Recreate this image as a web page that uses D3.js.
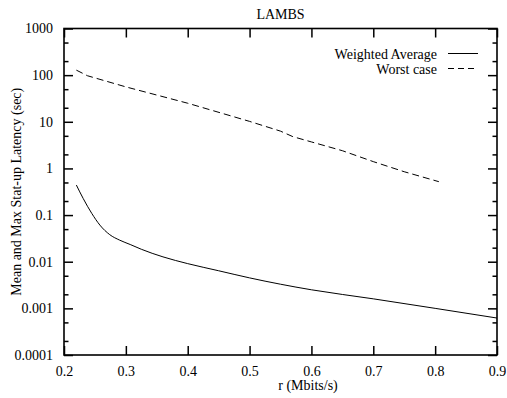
<!DOCTYPE html>
<html>
<head>
<meta charset="utf-8">
<script src="https://cdn.jsdelivr.net/npm/d3@7"></script>
<style>
  body { margin: 0; background: #fff; }
  svg text { font-family: "Liberation Serif", "Times New Roman", Times, "DejaVu Serif", serif; }
</style>
</head>
<body>
<svg width="507" height="398"></svg>
<script>
// data
const rAvg = [0.22, 0.231, 0.245, 0.258, 0.274, 0.29, 0.307, 0.325, 0.36, 0.4, 0.45, 0.5, 0.6, 0.7, 0.8, 0.9];
const avgLatency = [0.44, 0.227, 0.108, 0.061, 0.038, 0.029, 0.0234, 0.0185, 0.0127, 0.0091, 0.0064, 0.0045, 0.0025, 0.0016, 0.001, 0.00062];

const rWorst = [0.22, 0.238, 0.3, 0.4, 0.5, 0.55, 0.57, 0.6, 0.65, 0.7, 0.75, 0.806];
const worstLatency = [128, 97, 56, 25, 10.2, 6.3, 4.8, 3.7, 2.4, 1.4, 0.85, 0.52];

const xTicks = [0.2, 0.3, 0.4, 0.5, 0.6, 0.7, 0.8, 0.9];
const yTicks = [1e-4, 1e-3, 1e-2, 0.1, 1, 10, 100, 1000];
const yTickLabels = ["0.0001", "0.001", "0.01", "0.1", "1", "10", "100", "1000"];
const yMinor = [2e-4, 5e-4, 2e-3, 5e-3, 2e-2, 5e-2, 0.2, 0.5, 2, 5, 20, 50, 200, 500];

const seriesNames = ["Weighted Average", "Worst case"];

const svg = d3.select("svg");
const x0 = 64, x1 = 497, y0 = 28.5, y1 = 355;

const x = d3.scaleLinear().domain([0.2, 0.9]).range([x0, x1]);
const y = d3.scaleLog().domain([1e-4, 1000]).range([y1, y0]);

const fontSize = 14;

// axes, ticks pointing inward
const yLabel = d => yTickLabels[yTicks.indexOf(d)];

svg.append("g")
    .attr("transform", `translate(${x0},0)`)
    .call(d3.axisLeft(y).tickValues(yTicks).tickFormat(yLabel).tickSize(-9).tickPadding(11))
    .call(g => g.select(".domain").remove());

svg.append("g")
    .attr("transform", `translate(${x0},0)`)
    .call(d3.axisLeft(y).tickValues(yMinor).tickFormat("").tickSize(-4.5))
    .call(g => g.select(".domain").remove());

svg.append("g")
    .attr("transform", `translate(${x1},0)`)
    .call(d3.axisRight(y).tickValues(yTicks).tickFormat("").tickSize(-9))
    .call(g => g.select(".domain").remove());

svg.append("g")
    .attr("transform", `translate(${x1},0)`)
    .call(d3.axisRight(y).tickValues(yMinor).tickFormat("").tickSize(-4.5))
    .call(g => g.select(".domain").remove());

svg.append("g")
    .attr("transform", `translate(0,${y1})`)
    .call(d3.axisBottom(x).tickValues(xTicks).tickFormat(d3.format(".1f")).tickSize(-9).tickPadding(11))
    .call(g => g.select(".domain").remove());

svg.append("g")
    .attr("transform", `translate(0,${y0})`)
    .call(d3.axisTop(x).tickValues(xTicks).tickFormat("").tickSize(-9))
    .call(g => g.select(".domain").remove());

svg.selectAll("g").attr("font-family", null).attr("font-size", null);
svg.selectAll(".tick line").attr("stroke", "#000").attr("stroke-width", 1.5);
svg.selectAll(".tick text")
    .attr("fill", "#000")
    .style("font-size", fontSize + "px");

// frame
svg.append("rect")
    .attr("x", x0).attr("y", y0)
    .attr("width", x1 - x0).attr("height", y1 - y0)
    .attr("fill", "none").attr("stroke", "#000").attr("stroke-width", 1.6);

// lines
const smooth = d3.line()
    .x(d => x(d[0]))
    .y(d => y(d[1]))
    .curve(d3.curveMonotoneX);

const straight = d3.line()
    .x(d => x(d[0]))
    .y(d => y(d[1]));

svg.append("path")
    .datum(d3.zip(rAvg, avgLatency))
    .attr("fill", "none").attr("stroke", "#000").attr("stroke-width", 1)
    .attr("d", smooth);

svg.append("path")
    .datum(d3.zip(rWorst, worstLatency))
    .attr("fill", "none").attr("stroke", "#000").attr("stroke-width", 1)
    .attr("stroke-dasharray", "7,4")
    .attr("d", straight);

// legend
const legend = svg.append("g");
seriesNames.forEach((name, i) => {
    const yy = 53.5 + i * 15;
    legend.append("text")
        .attr("x", 437).attr("y", yy + 5)
        .attr("text-anchor", "end")
        .style("font-size", fontSize + "px")
        .text(name);
    legend.append("line")
        .attr("x1", 448).attr("x2", 478)
        .attr("y1", yy).attr("y2", yy)
        .attr("stroke", "#000").attr("stroke-width", 1)
        .attr("stroke-dasharray", i ? "6,4" : null);
});

// title and axis labels
svg.append("text")
    .attr("x", (x0 + x1) / 2).attr("y", 18.5)
    .attr("text-anchor", "middle")
    .style("font-size", fontSize + "px")
    .text("LAMBS");

svg.append("text")
    .attr("x", 308).attr("y", 390)
    .attr("text-anchor", "middle")
    .style("font-size", fontSize + "px")
    .text("r (Mbits/s)");

svg.append("text")
    .attr("transform", `translate(21,${(y0 + y1) / 2}) rotate(-90)`)
    .attr("text-anchor", "middle")
    .style("font-size", fontSize + "px")
    .text("Mean and Max Stat-up Latency (sec)");
</script>
</body>
</html>
